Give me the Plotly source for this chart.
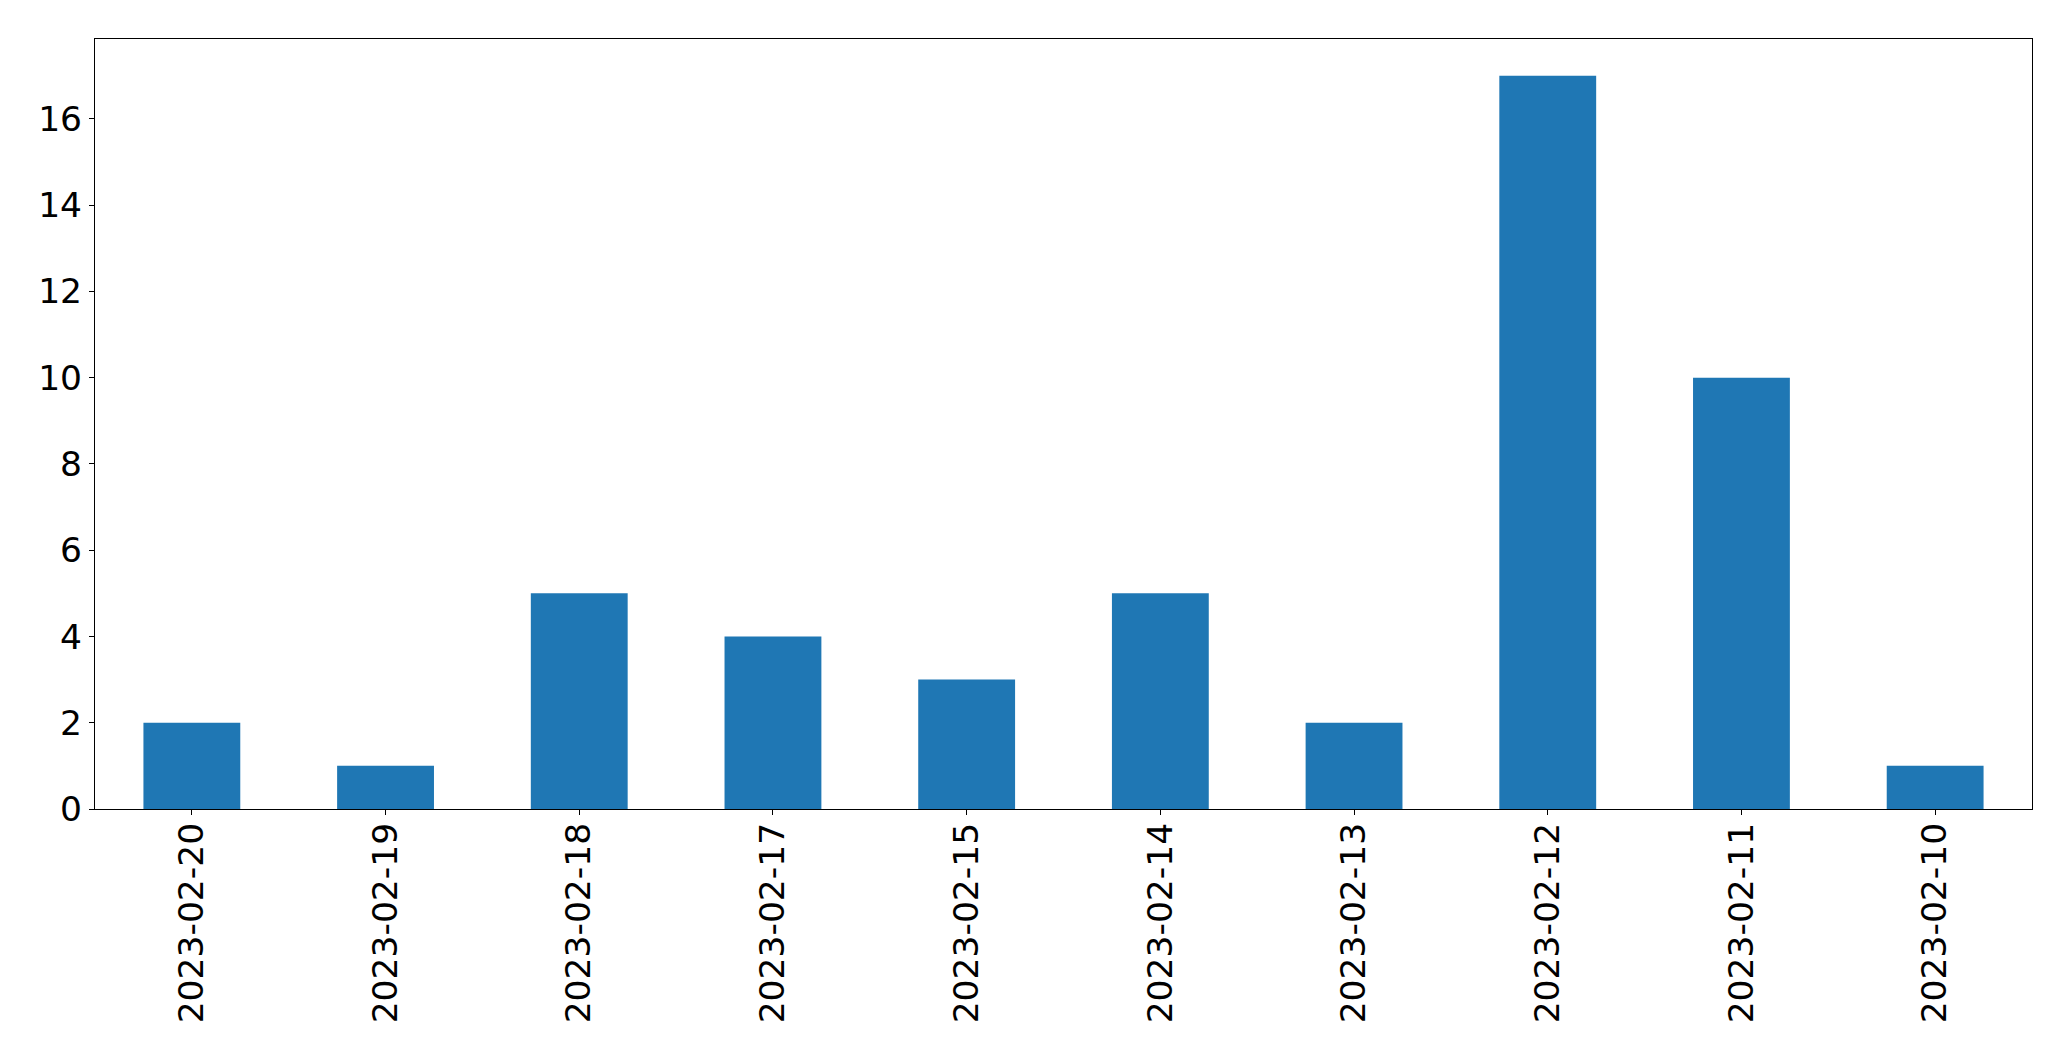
import plotly.graph_objects as go

dates = ["2023-02-20", "2023-02-19", "2023-02-18", "2023-02-17", "2023-02-15",
         "2023-02-14", "2023-02-13", "2023-02-12", "2023-02-11", "2023-02-10"]
counts = [2, 1, 5, 4, 3, 5, 2, 17, 10, 1]
y_ticks = [0, 2, 4, 6, 8, 10, 12, 14, 16]

fig = go.Figure(go.Bar(x=dates, y=counts, width=0.5, marker_color="#1f77b4",
                       marker_line_width=0))

axis_common = dict(showline=True, linecolor="black", linewidth=1.1, mirror=True,
                   ticks="outside", ticklen=5, tickwidth=1.1, tickcolor="black",
                   showgrid=False, zeroline=False,
                   tickfont=dict(family="DejaVu Sans", size=34.5, color="black"))

fig.update_layout(
    width=2071, height=1061,
    margin=dict(l=94.5, r=38.7, t=39.3, b=252, pad=0),
    plot_bgcolor="white", paper_bgcolor="white",
    showlegend=False, bargap=0.5,
    xaxis=dict(type="category", range=[-0.5, 9.5], tickangle=-90,
               ticklabelstandoff=-6, **axis_common),
    yaxis=dict(range=[0, 17.85], tickmode="array", tickvals=y_ticks,
               ticktext=[str(v) for v in y_ticks], **axis_common),
)

fig.write_html("out.html", config={"displayModeBar": False},
               post_script="document.body.style.margin='0';document.body.style.overflow='hidden';")
